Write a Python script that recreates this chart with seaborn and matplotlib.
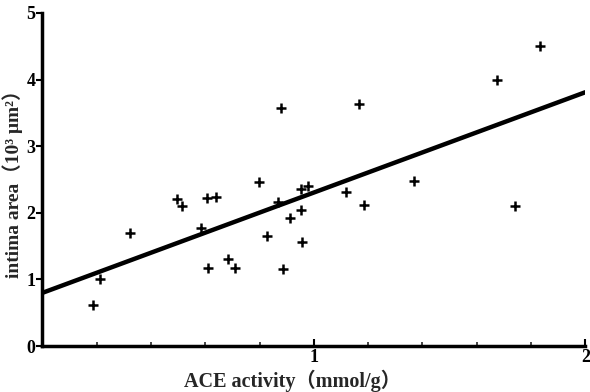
import matplotlib
matplotlib.use("Agg")
import matplotlib.pyplot as plt
import seaborn as sns
import pandas as pd
import numpy as np

# data
ace_activity = [0.187, 0.212, 0.323, 0.495, 0.513, 0.584, 0.607, 0.640, 0.611, 0.685,
                0.710, 0.799, 0.829, 0.869, 0.888, 0.912, 0.953, 0.954, 0.980, 0.958,
                0.878, 1.118, 1.168, 1.186, 1.370, 1.676, 1.742, 1.834]
intima_area = [0.61, 1.01, 1.70, 2.21, 2.10, 1.77, 2.22, 2.24, 1.17, 1.31,
               1.18, 2.46, 1.66, 2.16, 1.16, 1.93, 2.04, 2.36, 2.40, 1.57,
               3.57, 2.31, 3.63, 2.12, 2.48, 4.00, 2.10, 4.51]
fit_x = [0.0, 2.0]
fit_y = [0.80, 3.81]
x_ticks = [1, 2]
y_ticks = [0, 1, 2, 3, 4, 5]

sns.set_theme(style="ticks")
plt.rcParams['font.family'] = ['Liberation Serif', 'Noto Sans CJK SC', 'DejaVu Serif']

df = pd.DataFrame({"x": ace_activity, "y": intima_area})
fit = pd.DataFrame({"x": fit_x, "y": fit_y})

fig = plt.figure(figsize=(5.9, 3.92), dpi=100)
ax = fig.add_axes([0.072, 0.117, 0.92, 0.85])

sns.lineplot(data=fit, x="x", y="y", ax=ax, color="black", linewidth=3.2, zorder=2)
sns.scatterplot(data=df, x="x", y="y", ax=ax, marker="+", s=55, color="black",
                linewidth=1.8, zorder=3)

ax.set_xlim(0, 2)
ax.set_ylim(0, 5)
ax.set_xticks(x_ticks)
ax.set_xticklabels([str(t) for t in x_ticks], fontsize=13, fontweight="bold")
ax.set_xticks(np.arange(0.2, 2.0, 0.2), minor=True)
ax.set_yticks(y_ticks)
ax.set_yticklabels([str(t) for t in y_ticks], fontsize=13, fontweight="bold")

ax.tick_params(axis="x", which="major", direction="in", length=5, width=1.5, pad=2, colors="black")
ax.tick_params(axis="x", which="minor", direction="in", length=3, width=1.2)
ax.tick_params(axis="y", which="major", direction="out", length=4, width=1.5, pad=1, colors="black")

for s in ["top", "right"]:
    ax.spines[s].set_visible(False)
for s in ["left", "bottom"]:
    ax.spines[s].set_linewidth(2.5)
    ax.spines[s].set_color("black")

ax.set_xlabel("ACE activity（mmol/g）", fontsize=14.5, fontweight="bold", labelpad=0)
ax.xaxis.set_label_coords(0.46, -0.07)
ax.set_ylabel("intima area（10³ μm²）", fontsize=14, fontweight="bold")
ax.yaxis.set_label_coords(-0.036, 0.5)

fig.savefig("out.png", dpi=100)
